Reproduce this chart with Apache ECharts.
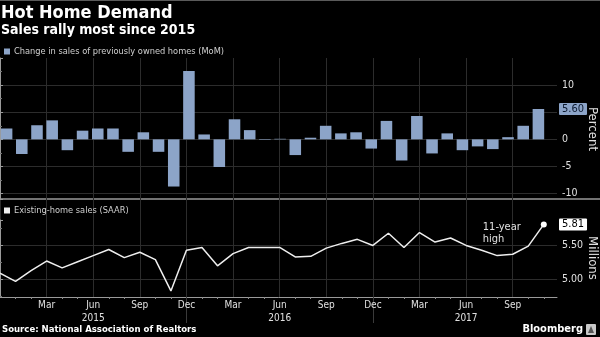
<!DOCTYPE html>
<html>
<head>
<meta charset="utf-8">
<script src="https://cdn.jsdelivr.net/npm/echarts@6/dist/echarts.min.js"></script>
<style>
  html, body { margin: 0; padding: 0; background: #000; }
  #chart { width: 600px; height: 337px; }
</style>
</head>
<body>
<div id="chart"></div>
<script>
// Monthly periods, Dec 2014 through Nov 2017
const months = [
  'Dec 2014', 'Jan 2015', 'Feb 2015', 'Mar 2015', 'Apr 2015', 'May 2015',
  'Jun 2015', 'Jul 2015', 'Aug 2015', 'Sep 2015', 'Oct 2015', 'Nov 2015',
  'Dec 2015', 'Jan 2016', 'Feb 2016', 'Mar 2016', 'Apr 2016', 'May 2016',
  'Jun 2016', 'Jul 2016', 'Aug 2016', 'Sep 2016', 'Oct 2016', 'Nov 2016',
  'Dec 2016', 'Jan 2017', 'Feb 2017', 'Mar 2017', 'Apr 2017', 'May 2017',
  'Jun 2017', 'Jul 2017', 'Aug 2017', 'Sep 2017', 'Oct 2017', 'Nov 2017'
];

// Month-over-month change in sales of previously owned homes, percent
const salesChangePct = [
  2.0, -2.7, 2.6, 3.5, -2.0, 1.6, 2.0, 2.0, -2.3, 1.3, -2.3, -8.7,
  12.6, 0.9, -5.1, 3.7, 1.7, -0.1, 0.1, -2.9, 0.3, 2.5, 1.1, 1.3,
  -1.7, 3.4, -3.9, 4.3, -2.6, 1.1, -2.0, -1.3, -1.8, 0.4, 2.5, 5.6
];

// Existing-home sales, seasonally adjusted annual rate, millions
const existingSales = [
  5.09, 4.97, 5.13, 5.27, 5.17, 5.26, 5.35, 5.44, 5.32, 5.40, 5.29, 4.83,
  5.43, 5.47, 5.20, 5.38, 5.47, 5.47, 5.47, 5.33, 5.34, 5.46, 5.53, 5.59,
  5.50, 5.68, 5.47, 5.69, 5.55, 5.61, 5.50, 5.43, 5.35, 5.37, 5.49, 5.81
];

// Axis ranges and tick spacing
const pctRange = [-11, 15];
const pctStep = 5;
const salesRange = [4.74, 5.875];
const salesStep = 0.5;
const monthStep = 3;
const monthSpan = 35.85;

const barName = 'Change in sales of previously owned homes (MoM)';
const lineName = 'Existing-home sales (SAAR)';

const FONT = '"DejaVu Sans Condensed", "DejaVu Sans", sans-serif';
const BAR_COLOR = '#8ca4c8';
const GRID_COLOR = '#2c2c2c';
const AXIS_COLOR = '#9a9a9a';
const TEXT_COLOR = '#e0e0e0';

const lastIdx = existingSales.length - 1;
const lastPct = salesChangePct[salesChangePct.length - 1];
const lastSales = existingSales[lastIdx];

const lineData = existingSales.map((v, i) => {
  if (i !== lastIdx) return [i, v];
  return {
    value: [i, v],
    symbol: 'circle',
    symbolSize: 6,
    itemStyle: { color: '#ffffff' },
    label: {
      show: true,
      position: [-58, -1],
      formatter: '11-year\nhigh',
      color: TEXT_COLOR,
      fontSize: 11,
      lineHeight: 12.5,
      fontFamily: FONT
    }
  };
});

const monthLabel = v => {
  if (v <= 0 || v % monthStep !== 0 || v >= months.length) return '';
  const [mon, yr] = months[v].split(' ');
  return mon === 'Jun' ? mon + '\n' + yr : mon;
};

// tick labels give way to the latest-value flag
const pctLabel = v => (Math.abs(v - lastPct) < 2.5 ? '' : String(v));

const isYearTurn = (i, m) => i > 0 && String(m).startsWith('Dec');

const hiddenY = (gridIndex, min, max) => ({ type: 'value', gridIndex, min, max, show: false });

// right-hand flag showing the latest value on an axis
const flagAxis = (gridIndex, range, value, fill, ink) => ({
  type: 'value', gridIndex, position: 'right', min: range[0], max: range[1],
  axisLine: { show: false }, axisTick: { show: false }, splitLine: { show: false },
  axisLabel: {
    show: true, customValues: [value], formatter: v => Number(v).toFixed(2),
    margin: 2, backgroundColor: fill, color: ink, fontSize: 11, fontFamily: FONT,
    padding: [1, 3, 0, 3], borderRadius: 1
  }
});

const panelGrid = (left, right, top, height) => ({ left, right, top, height, outerBoundsMode: 'none' });

const chart = echarts.init(document.getElementById('chart'), null, { renderer: 'canvas' });

chart.setOption({
  backgroundColor: '#000000',
  animation: false,
  title: [
    { text: 'Hot Home Demand', left: 1, top: 4, padding: 0,
      textStyle: { color: '#ffffff', fontSize: 18, fontWeight: 'bold', fontFamily: FONT } },
    { text: 'Sales rally most since 2015', left: 1, top: 23, padding: 0,
      textStyle: { color: '#ffffff', fontSize: 14, fontWeight: 'bold', fontFamily: FONT } },
    { text: 'Source: National Association of Realtors', left: 2, top: 325, padding: 0,
      textStyle: { color: '#ffffff', fontSize: 9.5, fontWeight: 'bold', fontFamily: FONT } },
    { text: 'Bloomberg', right: 17, top: 324, padding: 0,
      textStyle: { color: '#ffffff', fontSize: 11, fontWeight: 'bold', fontFamily: FONT } }
  ],
  legend: [
    { data: [barName], left: 4, top: 47, padding: 0, icon: 'rect', itemWidth: 6, itemHeight: 6, itemGap: 4,
      selectedMode: false, textStyle: { color: '#d0d0d0', fontSize: 9.2, fontFamily: FONT, padding: [0, 0, 0, -1] } },
    { data: [lineName], left: 4, top: 206, padding: 0, icon: 'rect', itemWidth: 6, itemHeight: 6, itemGap: 4,
      selectedMode: false, textStyle: { color: '#d0d0d0', fontSize: 9.2, fontFamily: FONT, padding: [0, 0, 0, -1] } }
  ],
  grid: [
    // bar panel frame: gridlines and percent axis
    panelGrid(0, 43, 58, 141),
    // bar marks
    panelGrid(-1, 54, 58, 141),
    // line panel frame: gridlines and month labels
    panelGrid(0, 43, 199, 98),
    // line marks and millions axis
    panelGrid(0, 43, 220, 77),
    // year-turn markers under the month axis
    panelGrid(0, 56, 199, 98)
  ],
  xAxis: [
    { type: 'value', gridIndex: 0, min: 0, max: monthSpan, interval: monthStep,
      axisLine: { show: false }, axisTick: { show: false }, axisLabel: { show: false },
      splitLine: { show: true, showMaxLine: false, lineStyle: { color: GRID_COLOR, width: 1 } } },
    { type: 'category', gridIndex: 1, data: months, show: false },
    { type: 'value', gridIndex: 2, min: 0, max: monthSpan, interval: monthStep,
      axisLine: { show: true, lineStyle: { color: AXIS_COLOR, width: 1 } },
      axisTick: { show: false },
      minorTick: { show: true, splitNumber: 3, length: 2, lineStyle: { color: '#8a8a8a' } },
      axisLabel: { show: true, formatter: monthLabel, color: TEXT_COLOR, fontSize: 10, lineHeight: 13,
        fontFamily: FONT, margin: 2, showMinLabel: false, showMaxLabel: false },
      splitLine: { show: true, showMaxLine: false, lineStyle: { color: GRID_COLOR, width: 1 } } },
    { type: 'value', gridIndex: 3, min: 0, max: monthSpan, interval: monthStep, show: false },
    { type: 'category', gridIndex: 4, data: months, boundaryGap: false,
      axisLine: { show: false }, axisLabel: { show: false }, splitLine: { show: false },
      axisTick: { show: true, interval: isYearTurn, length: 26, lineStyle: { color: '#3a3a3a' } } }
  ],
  yAxis: [
    { type: 'value', gridIndex: 0, position: 'right', min: pctRange[0], max: pctRange[1],
      minInterval: pctStep, maxInterval: pctStep,
      axisLine: { show: true, lineStyle: { color: AXIS_COLOR, width: 1 } },
      axisTick: { show: true, length: 3, lineStyle: { color: AXIS_COLOR } },
      minorTick: { show: true, splitNumber: 2, length: 2, lineStyle: { color: '#777' } },
      axisLabel: { color: TEXT_COLOR, fontSize: 10.5, fontFamily: FONT, margin: 5, formatter: pctLabel,
        showMinLabel: false, showMaxLabel: false },
      splitLine: { show: true, showMinLine: false, showMaxLine: false, lineStyle: { color: GRID_COLOR, width: 1 } } },
    hiddenY(1, pctRange[0], pctRange[1]),
    hiddenY(2, 0, 1),
    { type: 'value', gridIndex: 3, position: 'right', min: salesRange[0], max: salesRange[1],
      minInterval: salesStep, maxInterval: salesStep,
      axisLine: { show: true, lineStyle: { color: AXIS_COLOR, width: 1 } },
      axisTick: { show: true, length: 3, lineStyle: { color: AXIS_COLOR } },
      minorTick: { show: true, splitNumber: 2, length: 2, lineStyle: { color: '#777' } },
      axisLabel: { color: TEXT_COLOR, fontSize: 10.5, fontFamily: FONT, margin: 5,
        formatter: v => v.toFixed(2), showMinLabel: false, showMaxLabel: false },
      splitLine: { show: true, showMinLine: false, showMaxLine: false, lineStyle: { color: GRID_COLOR, width: 1 } } },
    hiddenY(4, 0, 1),
    flagAxis(0, pctRange, lastPct, BAR_COLOR, '#0c1a30'),
    flagAxis(3, salesRange, lastSales, '#ffffff', '#000000')
  ],
  series: [
    { name: barName, type: 'bar', xAxisIndex: 1, yAxisIndex: 1, data: salesChangePct,
      barWidth: '76%', itemStyle: { color: BAR_COLOR }, silent: true },
    { name: lineName, type: 'line', xAxisIndex: 3, yAxisIndex: 3, data: lineData,
      symbol: 'none', color: '#eeeeee', lineStyle: { color: '#eeeeee', width: 1.5 }, silent: true }
  ],
  graphic: [
    // frame top edge
    { type: 'line', shape: { x1: 0, y1: 0.5, x2: 600, y2: 0.5 }, style: { stroke: '#5a5a5a', lineWidth: 1 }, silent: true },
    // panel separator
    { type: 'line', shape: { x1: 0, y1: 199, x2: 600, y2: 199 }, style: { stroke: '#9a9a9a', lineWidth: 1.5 }, silent: true },
    // axis units, reading downward
    { type: 'text', x: 592, y: 129, rotation: -Math.PI / 2, silent: true,
      style: { text: 'Percent', fill: TEXT_COLOR, font: '13px ' + FONT, align: 'center', verticalAlign: 'middle' } },
    { type: 'text', x: 592, y: 258, rotation: -Math.PI / 2, silent: true,
      style: { text: 'Millions', fill: TEXT_COLOR, font: '13px ' + FONT, align: 'center', verticalAlign: 'middle' } },
    // Bloomberg badge
    { type: 'rect', shape: { x: 586, y: 324, width: 10, height: 11, r: 1 }, style: { fill: '#c8c8c8' }, silent: true },
    { type: 'polygon', shape: { points: [[588, 333], [591, 326], [594, 333]] }, style: { fill: '#555' }, silent: true }
  ]
});
</script>
</body>
</html>
